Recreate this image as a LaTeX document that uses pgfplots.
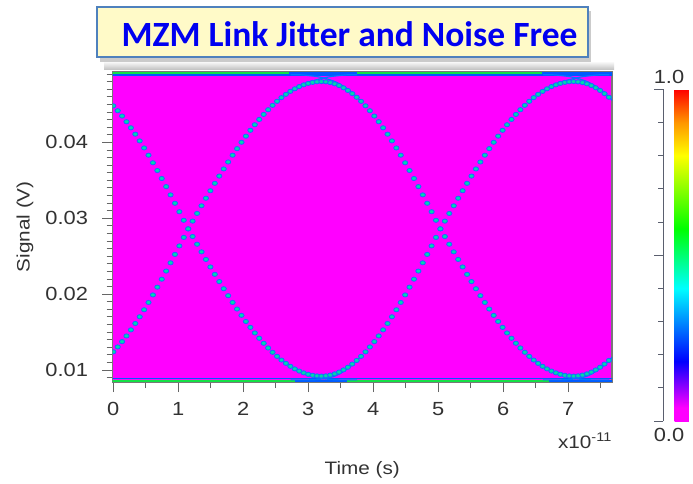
\documentclass[border=0pt]{standalone}
\usepackage{pgfplots}
\pgfplotsset{compat=1.18}
\usepackage{pgfplotstable}
\usepackage{fontspec}
\setmainfont{Liberation Sans}[FakeStretch=1.15]
\newfontfamily\titlefont{Carlito}
\definecolor{mag}{RGB}{255,0,255}
\definecolor{dotblue}{RGB}{20,110,255}
\definecolor{dotgreen}{RGB}{0,215,170}
\definecolor{lineblue}{RGB}{0,90,255}
\definecolor{secblue}{RGB}{0,120,255}
\definecolor{linegreen}{RGB}{20,225,70}
\definecolor{framegray}{RGB}{120,120,120}
\definecolor{txtgray}{RGB}{50,50,50}
\definecolor{rulergray}{RGB}{90,95,110}
\definecolor{boxfill}{RGB}{255,250,200}
\definecolor{boxedge}{RGB}{79,129,189}
\definecolor{titleblue}{RGB}{0,0,240}

\pgfplotstableread{
t R F
0.0000 0.012391 0.044809
0.0678 0.013039 0.044161
0.1356 0.013739 0.043461
0.2033 0.014489 0.042711
0.2711 0.015287 0.041913
0.3389 0.016130 0.041070
0.4067 0.017015 0.040185
0.4744 0.017940 0.039260
0.5422 0.018900 0.038300
0.6100 0.019893 0.037307
0.6778 0.020916 0.036284
0.7456 0.021965 0.035235
0.8133 0.023036 0.034164
0.8811 0.024126 0.033074
0.9489 0.025231 0.031969
1.0167 0.026348 0.030852
1.0844 0.027472 0.029728
1.1522 0.028600 0.028600
1.2205 0.029615 0.027585
1.2889 0.030628 0.026572
1.3572 0.031635 0.025565
1.4255 0.032633 0.024567
1.4939 0.033621 0.023579
1.5622 0.034595 0.022605
1.6305 0.035552 0.021648
1.6989 0.036491 0.020709
1.7672 0.037407 0.019793
1.8355 0.038300 0.018900
1.9039 0.039166 0.018034
1.9722 0.040003 0.017197
2.0405 0.040809 0.016391
2.1089 0.041581 0.015619
2.1772 0.042318 0.014882
2.2455 0.043017 0.014183
2.3139 0.043677 0.013523
2.3822 0.044295 0.012905
2.4505 0.044870 0.012330
2.5189 0.045401 0.011799
2.5872 0.045886 0.011314
2.6555 0.046323 0.010877
2.7239 0.046711 0.010489
2.7922 0.047051 0.010149
2.8605 0.047339 0.009861
2.9289 0.047576 0.009624
2.9972 0.047761 0.009439
3.0655 0.047894 0.009306
3.1339 0.047973 0.009227
3.2022 0.048000 0.009200
3.2700 0.047967 0.009233
3.3378 0.047869 0.009331
3.4055 0.047705 0.009495
3.4733 0.047477 0.009723
3.5411 0.047185 0.010015
3.6089 0.046830 0.010370
3.6766 0.046413 0.010787
3.7444 0.045937 0.011263
3.8122 0.045401 0.011799
3.8800 0.044809 0.012391
3.9478 0.044161 0.013039
4.0155 0.043461 0.013739
4.0833 0.042711 0.014489
4.1511 0.041913 0.015287
4.2189 0.041070 0.016130
4.2866 0.040185 0.017015
4.3544 0.039260 0.017940
4.4222 0.038300 0.018900
4.4900 0.037307 0.019893
4.5578 0.036284 0.020916
4.6255 0.035235 0.021965
4.6933 0.034164 0.023036
4.7611 0.033074 0.024126
4.8289 0.031969 0.025231
4.8966 0.030852 0.026348
4.9644 0.029728 0.027472
5.0322 0.028600 0.028600
5.1005 0.027585 0.029615
5.1689 0.026572 0.030628
5.2372 0.025565 0.031635
5.3055 0.024567 0.032633
5.3739 0.023579 0.033621
5.4422 0.022605 0.034595
5.5105 0.021648 0.035552
5.5789 0.020709 0.036491
5.6472 0.019793 0.037407
5.7155 0.018900 0.038300
5.7839 0.018034 0.039166
5.8522 0.017197 0.040003
5.9205 0.016391 0.040809
5.9889 0.015619 0.041581
6.0572 0.014882 0.042318
6.1255 0.014183 0.043017
6.1939 0.013523 0.043677
6.2622 0.012905 0.044295
6.3305 0.012330 0.044870
6.3989 0.011799 0.045401
6.4672 0.011314 0.045886
6.5355 0.010877 0.046323
6.6039 0.010489 0.046711
6.6722 0.010149 0.047051
6.7405 0.009861 0.047339
6.8089 0.009624 0.047576
6.8772 0.009439 0.047761
6.9455 0.009306 0.047894
7.0139 0.009227 0.047973
7.0822 0.009200 0.048000
7.1500 0.009233 0.047967
7.2178 0.009331 0.047869
7.2855 0.009495 0.047705
7.3533 0.009723 0.047477
7.4211 0.010015 0.047185
7.4889 0.010370 0.046830
7.5566 0.010787 0.046413
7.6244 0.011263 0.045937
7.6922 0.011799 0.045401
}\eyedata

\begin{document}
\begin{tikzpicture}
\path[use as bounding box] (0,0) rectangle (693pt,483pt);
\fill[white] (0,0) rectangle (693pt,483pt);
% shadow band above the plot
\shade[top color=white, bottom color=black!25] (104pt,413pt) rectangle (614pt,422pt);
% title box
\fill[black!40, opacity=0.5] (100pt,421pt) rectangle (591pt,472pt);
\filldraw[fill=boxfill, draw=boxedge, line width=1.5pt] (97pt,426pt) rectangle (588pt,476pt);
\node[anchor=base, text=titleblue, font=\titlefont\bfseries\fontsize{35.5}{40}\selectfont, inner sep=0pt] at (349.5pt,436.3pt) {MZM Link Jitter and Noise Free};

\begin{axis}[
  at={(112.5pt,101pt)}, anchor=south west,
  scale only axis, width=499.5pt, height=310.5pt,
  xmin=-0.012, xmax=7.672, ymin=0.00842, ymax=0.04933,
  axis background/.style={fill=mag},
  axis line style={draw=framegray, line width=1.2pt},
  tick align=outside, xtick pos=left, ytick pos=left,
  xtick={0,1,2,3,4,5,6,7}, xticklabels={0,1,2,3,4,5,6,7},
  minor xtick={0.5,1.5,2.5,3.5,4.5,5.5,6.5,7.5},
  ytick={0.01,0.02,0.03,0.04}, yticklabels={0.01,0.02,0.03,0.04},
  minor ytick={0.009,0.011,0.012,0.013,0.014,0.015,0.016,0.017,0.018,0.019,0.021,0.022,0.023,0.024,0.025,0.026,0.027,0.028,0.029,0.031,0.032,0.033,0.034,0.035,0.036,0.037,0.038,0.039,0.041,0.042,0.043,0.044,0.045,0.046,0.047,0.048,0.049},
  major tick length=10pt, minor tick length=6pt,
  tick style={draw=black!60, line width=0.8pt},
  ticklabel style={font=\fontsize{19}{21}\selectfont, text=txtgray},
  xticklabel style={yshift=-7pt},
  yticklabel style={xshift=-11pt},
  scaled ticks=false,
  xlabel={Time (s)}, ylabel={Signal (V)},
  label style={font=\fontsize{18}{20}\selectfont, text=txtgray},
  xlabel style={at={(axis description cs:0.5,-0.283)}, anchor=center},
  ylabel style={at={(axis description cs:-0.175,0.5)}, anchor=center},
  clip marker paths=true,
  colorbar,
  colormap={eyemap}{rgb255(0cm)=(255,0,255) rgb255(4cm)=(255,0,255) rgb255(18cm)=(0,0,255) rgb255(40cm)=(0,255,255) rgb255(58cm)=(0,255,0) rgb255(80cm)=(255,255,0) rgb255(90cm)=(255,150,0) rgb255(100cm)=(255,0,0)},
  point meta min=0, point meta max=1,
  colorbar style={at={(666pt,393.7pt)}, anchor=north west, scale only axis, width=36pt, height=331.7pt, ytick=\empty, xtick=\empty, axis line style={draw=none}},
]
% top and bottom levels
\addplot[lineblue, line width=1.6pt] coordinates {(-0.02,0.04885) (7.70,0.04885)};
\addplot[linegreen, line width=2.4pt] coordinates {(-0.02,0.04915) (2.70,0.04915)};
\addplot[linegreen, line width=2.4pt] coordinates {(3.75,0.04915) (6.60,0.04915)};
\addplot[lineblue, line width=2.4pt] coordinates {(2.70,0.04915) (3.75,0.04915)};
\addplot[lineblue, line width=2.4pt] coordinates {(6.60,0.04915) (7.70,0.04915)};
\addplot[lineblue, line width=1.4pt] coordinates {(-0.02,0.00885) (7.70,0.00885)};
\addplot[linegreen, line width=2pt] coordinates {(-0.02,0.0086) (2.80,0.0086)};
\addplot[linegreen, line width=2pt] coordinates {(3.60,0.0086) (6.70,0.0086)};
\addplot[lineblue, line width=2pt] coordinates {(2.80,0.0086) (3.60,0.0086)};
\addplot[lineblue, line width=2pt] coordinates {(6.70,0.0086) (7.70,0.0086)};
% secondary transitions near the rails
\addplot[secblue, line width=1.2pt, smooth] coordinates {(2.52,0.0454) (2.66,0.04635) (2.79,0.0471) (2.93,0.0477) (3.07,0.0481) (3.20,0.0484) (3.34,0.04865) (3.48,0.0488) (3.61,0.0489) (3.75,0.0489)};
\addplot[secblue, line width=1.2pt, smooth] coordinates {(2.73,0.0489) (2.87,0.0489) (3.00,0.0488) (3.14,0.04865) (3.27,0.0484) (3.41,0.0480) (3.54,0.0474) (3.68,0.0465) (3.81,0.0454)};
\addplot[secblue, line width=1.2pt, smooth] coordinates {(6.40,0.0454) (6.54,0.04635) (6.67,0.0471) (6.81,0.0477) (6.95,0.0481) (7.08,0.0484) (7.22,0.04865) (7.36,0.0488) (7.49,0.0489) (7.63,0.0489)};
\addplot[secblue, line width=1.2pt, smooth] coordinates {(6.61,0.0489) (6.75,0.0489) (6.88,0.0488) (7.02,0.04865) (7.15,0.0484) (7.29,0.0480) (7.42,0.0474) (7.56,0.0465) (7.69,0.0454)};
\addplot[secblue, line width=1.2pt, smooth] coordinates {(2.52,0.0118) (2.66,0.01085) (2.79,0.0101) (2.93,0.0095) (3.07,0.0091) (3.20,0.0089) (3.34,0.00875) (3.48,0.0087) (3.61,0.0087) (3.75,0.0087)};
\addplot[secblue, line width=1.2pt, smooth] coordinates {(2.73,0.0087) (2.87,0.0087) (3.00,0.0087) (3.14,0.00875) (3.27,0.0089) (3.41,0.0092) (3.54,0.0098) (3.68,0.0107) (3.81,0.0118)};
\addplot[secblue, line width=1.2pt, smooth] coordinates {(6.40,0.0118) (6.54,0.01085) (6.67,0.0101) (6.81,0.0095) (6.95,0.0091) (7.08,0.0089) (7.22,0.00875) (7.36,0.0087) (7.49,0.0087) (7.63,0.0087)};
\addplot[secblue, line width=1.2pt, smooth] coordinates {(6.61,0.0087) (6.75,0.0087) (6.88,0.0087) (7.02,0.00875) (7.15,0.0089) (7.29,0.0092) (7.42,0.0098) (7.56,0.0107) (7.69,0.0118)};
% main eye traces
\addplot[only marks, mark=*, mark size=2.1pt, mark options={draw=dotblue, fill=dotgreen, line width=0.8pt, xscale=1.25}] table[x=t, y=R] {\eyedata};
\addplot[only marks, mark=*, mark size=2.1pt, mark options={draw=dotblue, fill=dotgreen, line width=0.8pt, xscale=1.25}] table[x=t, y=F] {\eyedata};
\end{axis}

% ruler of the colour scale
\begin{axis}[
  at={(663pt,62pt)}, anchor=south west, scale only axis, width=8pt, height=331.7pt,
  xmin=0, xmax=1, ymin=0, ymax=1, hide x axis, axis y line*=left,
  y axis line style={-, draw=rulergray, line width=0.9pt},
  ytick={0.1,0.2,0.3,0.4,0.6,0.7,0.8,0.9}, yticklabels={},
  extra y ticks={0,0.5,1}, extra y tick labels={},
  extra y tick style={major tick length=9pt},
  tick align=outside, major tick length=5pt, ytick pos=left,
  tick style={draw=rulergray, line width=0.9pt},
]
\addplot[draw=none] coordinates {(0,0) (1,1)};
\end{axis}

\node[font=\fontsize{19}{21}\selectfont, text=txtgray] at (669pt,406.3pt) {1.0};
\node[font=\fontsize{19}{21}\selectfont, text=txtgray] at (669pt,48pt) {0.0};
\node[font=\fontsize{18}{20}\selectfont, text=txtgray, anchor=base east, inner sep=0pt] at (612pt,35pt) {x10\textsuperscript{-11}};
\end{tikzpicture}
\end{document}
